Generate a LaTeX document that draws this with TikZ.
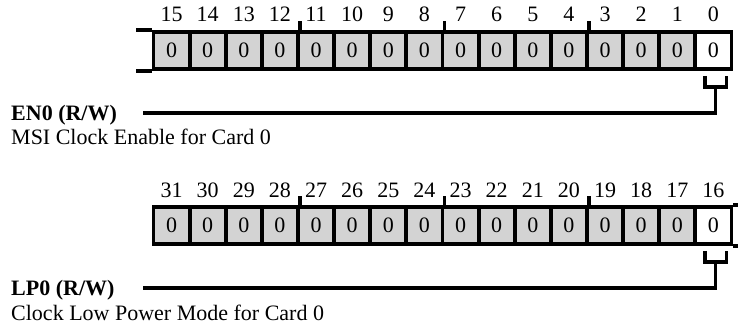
\documentclass[tikz,border=0pt]{standalone}
\usepackage{fontspec}
\setmainfont{Liberation Serif}
\usetikzlibrary{calc}
\definecolor{cellgrey}{RGB}{211,211,211}
\begin{document}
\begin{tikzpicture}[x=1pt,y=-1pt,
  txt/.style={font=\fontsize{22}{25}\selectfont,inner sep=0pt},
  cell/.style={txt,draw,line width=3.8pt,fill=cellgrey,minimum width=36.125pt,minimum height=37pt},
  whitecell/.style={cell,fill=white},
  bitlbl/.style={txt,anchor=base},
  thick3/.style={line width=3.8pt},
  head/.style={txt,anchor=base west,font=\fontsize{22}{25}\selectfont\bfseries},
  desc/.style={txt,anchor=base west}]
\useasboundingbox (0,0) rectangle (738,328);
% ---------- top register (bits 15..0)
\node[whitecell] (t0) at ({731.5-18.0625},50.5) {0};
\foreach \i in {1,...,15}{
  \node[cell] (t\i) at ({731.5-18.0625-36.125*\i},50.5) {0};
}
\foreach \i in {0,...,15}{
  \node[bitlbl] (n\i) at ({731.5-18.0625-36.125*\i},21.7) {\i};
}
\draw[thick3] (t15.north west) -- ++(-15.5,0);
\draw[thick3] (t15.south west) -- ++(-15.5,0);
\foreach \i in {12,8,4}{
  \draw[thick3] (t\i.north east) -- ++(0,-9);
}
\coordinate (en) at (143,113);
\draw[thick3] ($(t0.south)+(-8.5,5)$) -- ++(0,11) -- ++(21.5,0) -- ++(0,-11);
\draw[thick3] ($(t0.south)+(2,16)$) |- (en);
\node[head] (enlbl) at (11,121) {EN0 (R/W)};
\node[desc] (endesc) at (11,145) {MSI Clock Enable for Card 0};
% ---------- bottom register (bits 31..16)
\node[whitecell] (b16) at ({731.5-18.0625},225.5) {0};
\foreach \i in {1,...,15}{
  \pgfmathtruncatemacro\j{\i+16}
  \node[cell] (b\j) at ({731.5-18.0625-36.125*\i},225.5) {0};
}
\foreach \i in {0,...,15}{
  \pgfmathtruncatemacro\j{\i+16}
  \node[bitlbl] (m\j) at ({731.5-18.0625-36.125*\i},198) {\j};
}
\draw[thick3] (b16.north east) -- ++(10,0);
\draw[thick3] (b16.south east) -- ++(10,0);
\foreach \i in {28,24,20}{
  \draw[thick3] (b\i.north east) -- ++(0,-9);
}
\coordinate (lp) at (143,288);
\draw[thick3] ($(b16.south)+(-8.5,5)$) -- ++(0,11) -- ++(21.5,0) -- ++(0,-11);
\draw[thick3] ($(b16.south)+(2,16)$) |- (lp);
\node[head] (lplbl) at (11,296) {LP0 (R/W)};
\node[desc] (lpdesc) at (11,320) {Clock Low Power Mode for Card 0};
\end{tikzpicture}
\end{document}
